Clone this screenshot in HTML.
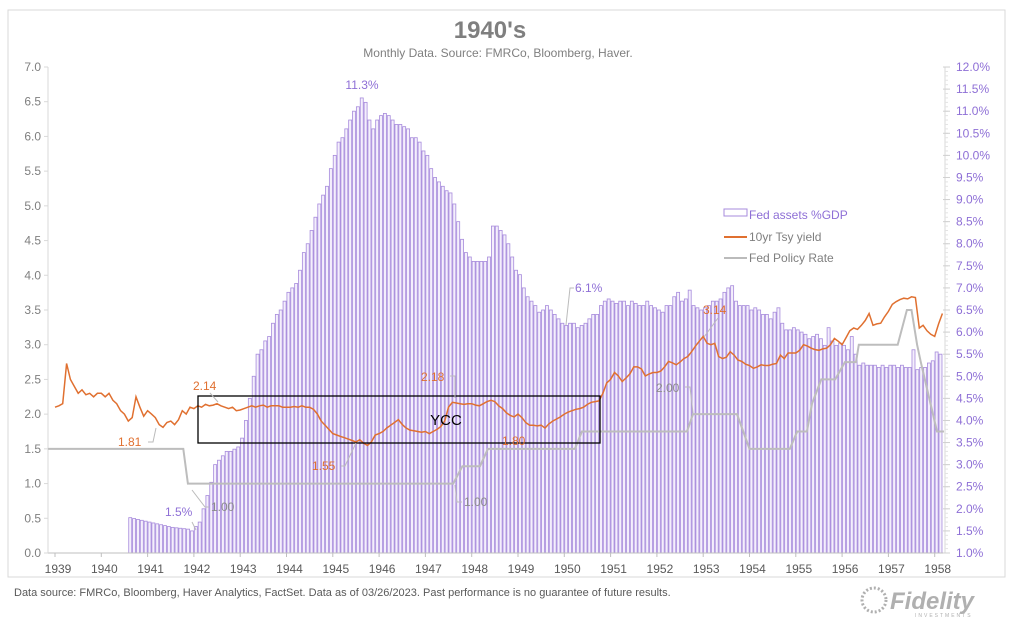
<!DOCTYPE html>
<html><head><meta charset="utf-8"><style>
body{margin:0;background:#fff;font-family:"Liberation Sans",sans-serif}
#wrap{position:relative;width:1024px;height:631px;overflow:hidden}
</style></head><body>
<div id="wrap">
<svg id="chart" width="1024" height="631" font-family="Liberation Sans, sans-serif">
<rect x="8" y="10" width="997" height="567" fill="#fff" stroke="#d9d9d9"/>
<text x="490" y="38" text-anchor="middle" font-size="24" font-weight="bold" fill="#7f7f7f">1940's</text>
<text x="498" y="57" text-anchor="middle" font-size="12" fill="#7f7f7f">Monthly Data.  Source: FMRCo, Bloomberg, Haver.</text>
<g id="bars"></g>
<g id="axes"></g>
<g id="lines"></g>
<rect x="198" y="396" width="402" height="47" fill="none" stroke="#000" stroke-width="1.3"/>
<text x="446" y="425" text-anchor="middle" font-size="15" fill="#000">YCC</text>
<g font-size="12">
<text x="362" y="89" text-anchor="middle" fill="#8e6fd6">11.3%</text>
<text x="165" y="516" fill="#8e6fd6">1.5%</text>
<polyline points="192,522 196,530" stroke="#bbb" fill="none"/>
<text x="575" y="292" fill="#8e6fd6">6.1%</text>
<polyline points="574,288 570,288 566,325" stroke="#bbb" fill="none"/>
<text x="118" y="446" fill="#e07030">1.81</text>
<polyline points="148,442 153,442 156,428" stroke="#bbb" fill="none"/>
<text x="193" y="390" fill="#e07030">2.14</text>
<polyline points="210,393 218,402" stroke="#bbb" fill="none"/>
<text x="312" y="470" fill="#e07030">1.55</text>
<polyline points="341,466 345,466 356,443" stroke="#bbb" fill="none"/>
<text x="421" y="381" fill="#e07030">2.18</text>
<polyline points="450,376 455,376 455,398" stroke="#bbb" fill="none"/>
<text x="502" y="445" fill="#e07030">1.80</text>
<text x="703" y="314" fill="#e07030">3.14</text>
<polyline points="718,318 704,337" stroke="#bbb" fill="none"/>
<text x="211" y="511" fill="#8c8c8c">1.00</text>
<polyline points="209,507 205,507 192,490" stroke="#bbb" fill="none"/>
<text x="464" y="506" fill="#8c8c8c">1.00</text>
<polyline points="462,502 457,502 455,485" stroke="#bbb" fill="none"/>
<text x="656" y="392" fill="#8c8c8c">2.00</text>
<polyline points="685,387 690,387 693,413" stroke="#bbb" fill="none"/>
</g>
<g font-size="12">
<rect x="724" y="209" width="23" height="7" fill="#fff" stroke="#a78bdc"/>
<text x="749" y="219" fill="#8e6fd6">Fed assets %GDP</text>
<line x1="724" y1="237" x2="747" y2="237" stroke="#e07030" stroke-width="2"/>
<text x="749" y="241" fill="#7f7f7f">10yr Tsy yield</text>
<line x1="724" y1="258" x2="747" y2="258" stroke="#bbb" stroke-width="2"/>
<text x="749" y="262" fill="#7f7f7f">Fed Policy Rate</text>
</g>
<text x="14" y="596" font-size="11" fill="#595959">Data source: FMRCo, Bloomberg, Haver Analytics, FactSet. Data as of 03/26/2023. Past performance is no guarantee of future results.</text>
<g>
<circle cx="874" cy="600" r="12" fill="none" stroke="#b0b0b0" stroke-width="3" stroke-dasharray="2 2"/>
<text x="890" y="609" font-size="24" font-weight="bold" font-style="italic" fill="#b0b0b0">Fidelity</text>
<text x="915" y="617" font-size="5" fill="#b0b0b0" letter-spacing="2">INVESTMENTS</text>
</g>
</svg>
</div>
<script>
// Fed assets % GDP, monthly Aug 1940 - Feb 1958
const assetStartYear = 1940 + 7/12;
const assetsPct = [
1.8,1.78,1.76,1.74,1.72,
1.7,1.68,1.66,1.64,1.62,1.6,1.58,1.57,1.56,1.55,1.54,1.5,
1.6,1.7,2.0,2.3,2.6,3.0,3.1,3.2,3.3,3.3,3.35,3.4,
3.6,4.0,4.5,5.0,5.5,5.6,5.8,5.9,6.2,6.4,6.5,6.7,
6.9,7.0,7.1,7.4,7.8,8.0,8.3,8.6,8.9,9.1,9.3,9.7,
10.0,10.3,10.4,10.6,10.8,11.0,11.1,11.3,11.2,10.8,10.6,10.8,
10.9,10.95,10.9,10.8,10.7,10.7,10.65,10.6,10.4,10.4,10.3,10.1,
10.0,9.7,9.5,9.4,9.3,9.2,9.15,8.9,8.5,8.1,7.8,7.7,
7.6,7.6,7.6,7.6,7.7,8.4,8.4,8.3,8.2,8.0,7.7,7.4,
7.3,7.0,6.8,6.7,6.6,6.45,6.5,6.6,6.5,6.4,6.3,6.2,
6.15,6.2,6.2,6.1,6.15,6.2,6.3,6.4,6.4,6.6,6.7,6.75,
6.7,6.65,6.7,6.7,6.6,6.7,6.65,6.6,6.6,6.7,6.6,6.55,
6.5,6.45,6.6,6.6,6.8,6.9,6.7,6.75,6.95,6.6,6.55,6.5,
6.55,6.6,6.7,6.7,6.75,6.9,7.0,7.05,6.7,6.6,6.6,6.6,
6.5,6.55,6.5,6.4,6.4,6.3,6.45,6.55,6.2,6.05,6.05,6.1,
6.05,6.0,5.95,5.85,5.9,5.95,5.85,5.7,6.1,5.8,5.7,5.75,
5.7,5.6,5.9,5.5,5.25,5.3,5.25,5.25,5.25,5.2,5.25,5.2,
5.25,5.25,5.2,5.25,5.2,5.2,5.6,5.15,5.2,5.2,5.3,5.35,
5.55,5.5];
// 10yr Treasury yield, monthly Jan 1939 - Mar 1958
const yieldStartYear = 1939;
const tsyYield = [
2.1,2.12,2.15,2.73,2.5,2.4,2.3,2.35,2.28,2.3,2.25,2.3,
2.3,2.25,2.3,2.2,2.15,2.05,2.0,1.9,1.95,2.25,2.1,1.97,
2.05,2.0,1.95,1.85,1.81,1.88,1.9,1.85,1.92,2.05,2.0,2.1,
2.08,2.12,2.1,2.14,2.12,2.13,2.15,2.12,2.1,2.08,2.1,2.05,
2.06,2.08,2.1,2.12,2.1,2.12,2.13,2.1,2.12,2.12,2.12,2.1,
2.1,2.1,2.11,2.1,2.12,2.1,2.1,2.07,2.0,1.9,1.84,1.78,
1.72,1.7,1.68,1.66,1.64,1.62,1.6,1.63,1.58,1.55,1.6,1.7,
1.72,1.75,1.8,1.84,1.88,1.92,1.85,1.8,1.77,1.76,1.75,1.74,
1.75,1.72,1.75,1.78,1.82,1.9,2.1,2.17,2.16,2.15,2.14,2.15,
2.15,2.13,2.12,2.15,2.18,2.2,2.18,2.12,2.08,2.02,1.98,1.96,
2.0,1.95,1.88,1.84,1.84,1.83,1.84,1.8,1.86,1.9,1.93,1.96,
2.0,2.03,2.05,2.07,2.08,2.1,2.14,2.17,2.18,2.19,2.3,2.45,
2.5,2.6,2.55,2.47,2.52,2.58,2.68,2.68,2.65,2.55,2.58,2.6,
2.6,2.62,2.68,2.76,2.74,2.71,2.75,2.8,2.83,2.9,2.98,3.05,
3.12,3.02,3.0,3.02,2.83,2.8,2.82,2.9,2.85,2.78,2.76,2.72,
2.7,2.66,2.68,2.71,2.7,2.7,2.72,2.73,2.85,2.8,2.88,2.88,
2.88,2.92,3.0,2.98,2.95,2.93,2.92,2.94,2.95,3.0,3.09,3.05,
3.0,3.1,3.2,3.24,3.22,3.28,3.35,3.45,3.28,3.3,3.31,3.4,
3.48,3.58,3.62,3.65,3.67,3.66,3.69,3.68,3.24,3.28,3.2,3.15,
3.12,3.3,3.45];
// Fed policy rate change points: years and values
const rateYears = [1938.85,1941.77,1941.87,1947.6,1947.8,1948.18,1948.35,1950.23,1950.38,1952.65,1952.78,1953.73,1954.0,1954.87,1955.03,1955.24,1955.35,1955.55,1955.85,1956.06,1956.3,1956.36,1957.2,1957.4,1957.5,1957.62,1957.7,1958.05,1958.2];
const rateValues = [1.5,1.5,1.0,1.0,1.25,1.25,1.5,1.5,1.75,1.75,2.0,2.0,1.5,1.5,1.75,1.75,2.15,2.5,2.5,2.75,2.75,3.0,3.0,3.5,3.5,3.0,2.75,1.75,1.75];
const yearTicks = [1939,1940,1941,1942,1943,1944,1945,1946,1947,1948,1949,1950,1951,1952,1953,1954,1955,1956,1957,1958];
const leftTicks = [0,0.5,1,1.5,2,2.5,3,3.5,4,4.5,5,5.5,6,6.5,7];
const rightTicks = [1,1.5,2,2.5,3,3.5,4,4.5,5,5.5,6,6.5,7,7.5,8,8.5,9,9.5,10,10.5,11,11.5,12];

const NS='http://www.w3.org/2000/svg';
const X=y=>55+(y-1939)*46.3;
const YL=v=>553-v*69.43;
const YR=v=>553-(v-1)*44.18;
function mk(tag,attrs,parent){const e=document.createElementNS(NS,tag);for(const k in attrs)e.setAttribute(k,attrs[k]);parent.appendChild(e);return e;}
const bars=document.getElementById('bars'),axes=document.getElementById('axes'),lines=document.getElementById('lines');
assetsPct.forEach((v,i)=>{
  const cx=X(assetStartYear+i/12+1/24);
  const r=mk('rect',{x:cx-1.5,y:YR(v),width:3,height:553-YR(v),fill:'#f4effc',stroke:'#a78bdc','stroke-width':0.8},bars);
  
  
});
// axes
let a=mk('line',{x1:48,y1:553,x2:945,y2:553,stroke:'#bfbfbf'},axes);


a=mk('line',{x1:48,y1:67,x2:48,y2:553,stroke:'#d9d9d9'},axes);


a=mk('line',{x1:945,y1:67,x2:945,y2:553,stroke:'#d9d9d9'},axes);


yearTicks.forEach(y=>{
  mk('line',{x1:X(y),y1:553,x2:X(y),y2:557,stroke:'#bfbfbf'},axes);
  const t=mk('text',{x:X(y)+3,y:573,'text-anchor':'middle','font-size':12,fill:'#595959'},axes);
  t.textContent=y;
  
  
});
leftTicks.forEach(v=>{
  mk('line',{x1:44,y1:YL(v),x2:48,y2:YL(v),stroke:'#d9d9d9'},axes);
  const t=mk('text',{x:41,y:YL(v)+4,'text-anchor':'end','font-size':12,fill:'#7f7f7f'},axes);
  t.textContent=v.toFixed(1);
  
  
});
for(let v=1;v<=12.001;v+=0.1){mk('line',{x1:945,y1:YR(v),x2:948,y2:YR(v),stroke:'#e3e3e3'},axes);}
rightTicks.forEach(v=>{
  mk('line',{x1:943,y1:YR(v),x2:950,y2:YR(v),stroke:'#d0d0d0'},axes);
  const t=mk('text',{x:956,y:YR(v)+4,'font-size':12,fill:'#8e6fd6'},axes);
  t.textContent=v.toFixed(1)+'%';
  
  
});
// fed rate
let pts=rateYears.map((y,i)=>X(y).toFixed(1)+','+YL(rateValues[i]).toFixed(1)).join(' ');
let p=mk('polyline',{points:pts,fill:'none',stroke:'#bdbdbd','stroke-width':2},lines);


// yield
pts=tsyYield.map((v,i)=>X(yieldStartYear+i/12).toFixed(1)+','+YL(v).toFixed(1)).join(' ');
p=mk('polyline',{points:pts,fill:'none',stroke:'#e07030','stroke-width':1.5},lines);


</script>
</body></html>
